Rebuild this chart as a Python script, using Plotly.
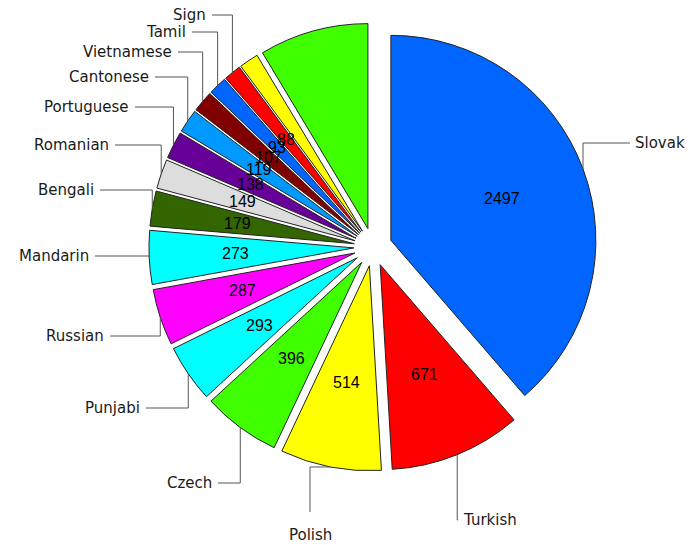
import math
import plotly.graph_objects as go

# ---------------- data ----------------
languages = ["Slovak", "Turkish", "Polish", "Czech", "Punjabi", "Russian", "Mandarin",
             "Bengali", "Romanian", "Portuguese", "Cantonese", "Vietnamese", "Tamil", "Sign",
             "Other (a)", "Other (b)"]
speakers = [2497, 671, 514, 396, 293, 287, 273, 179, 149, 138, 119, 107, 93, 88, 98, 555]
labelled = [True] * 14 + [False, False]

# ---------------- styles ----------------
colors = ["#0066FF", "#FF0000", "#FFFF00", "#40FF00", "#00FFFF", "#FF00FF", "#00FFFF",
          "#336600", "#DDDDDD", "#660099", "#0099FF", "#800000", "#0066FF", "#FF0000",
          "#FFFF00", "#40FF00"]

W, H = 698, 545
CX, CY = 373, 247        # pie centre (px)
R = 205                  # pie radius (px)
PULL = 0.093
VALUE_R = 0.58           # fraction of radius where values sit

# label layout: style, elbow end x, label y (px)
label_layout = {
    "Slovak": ("right", 630, 143),
    "Turkish": ("below-right", 458, 520),
    "Polish": ("below", 310, 512),
    "Czech": ("left", 218, 483),
    "Punjabi": ("left", 146, 408),
    "Russian": ("left", 110, 336),
    "Mandarin": ("left", 95, 256),
    "Bengali": ("left", 100, 190),
    "Romanian": ("left", 115, 145),
    "Portuguese": ("left", 135, 107),
    "Cantonese": ("left", 155, 77),
    "Vietnamese": ("left", 178, 52),
    "Tamil": ("left", 192, 32),
    "Sign": ("left", 212, 15),
}

box = 2 * R * (1 + PULL)
dom_x = [(CX - box / 2) / W, (CX + box / 2) / W]
dom_y = [1 - (CY + box / 2) / H, 1 - (CY - box / 2) / H]


def px(x):
    return x / W


def py(y):
    return 1 - y / H


fig = go.Figure()
fig.add_trace(go.Pie(
    labels=languages, values=speakers, sort=False, direction="clockwise", rotation=0,
    pull=[PULL] * len(speakers), textinfo="none", hoverinfo="label+value",
    marker=dict(colors=colors, line=dict(color="#222222", width=1)),
    domain=dict(x=dom_x, y=dom_y), showlegend=False,
))

annotations = []
shapes = []
line_style = dict(color="#555555", width=1)
label_font = dict(family="DejaVu Sans", size=15, color="#1a1a1a")
value_font = dict(family="Liberation Sans, Arial", size=16, color="#000000")

total = float(sum(speakers))
cum = 0.0
for name, v, show in zip(languages, speakers, labelled):
    a0 = cum / total * 2 * math.pi
    cum += v
    a1 = cum / total * 2 * math.pi
    mid = (a0 + a1) / 2
    dx, dy = math.sin(mid), -math.cos(mid)
    if not show:
        continue
    # value text
    rv = R * PULL + VALUE_R * R
    annotations.append(dict(x=px(CX + rv * dx), y=py(CY + rv * dy), xref="paper", yref="paper",
                            text=str(v), showarrow=False, font=value_font,
                            xanchor="center", yanchor="middle"))
    # anchor on the outer arc
    ra = R * PULL + R
    ax, ay = CX + ra * dx, CY + ra * dy
    style, lx, ly = label_layout[name]
    if style == "below":
        pts = [(ax, ay), (lx, ay), (lx, ly)]
        annotations.append(dict(x=px(lx), y=py(ly + 12), xref="paper", yref="paper", text=name,
                                showarrow=False, font=label_font, xanchor="center", yanchor="top"))
    else:
        pts = [(ax, ay), (ax, ly), (lx, ly)]
        if style == "left":
            annotations.append(dict(x=px(lx - 4), y=py(ly), xref="paper", yref="paper", text=name,
                                    showarrow=False, font=label_font, xanchor="right", yanchor="middle"))
        else:
            annotations.append(dict(x=px(lx + 3), y=py(ly), xref="paper", yref="paper", text=name,
                                    showarrow=False, font=label_font, xanchor="left", yanchor="middle"))
    for (x0, y0), (x1, y1) in zip(pts[:-1], pts[1:]):
        shapes.append(dict(type="line", xref="paper", yref="paper", x0=px(x0), y0=py(y0),
                           x1=px(x1), y1=py(y1), line=line_style))

fig.update_layout(
    width=W, height=H, margin=dict(l=0, r=0, t=0, b=0),
    paper_bgcolor="white", plot_bgcolor="white",
    annotations=annotations, shapes=shapes,
)

fig.write_html("out.html")
